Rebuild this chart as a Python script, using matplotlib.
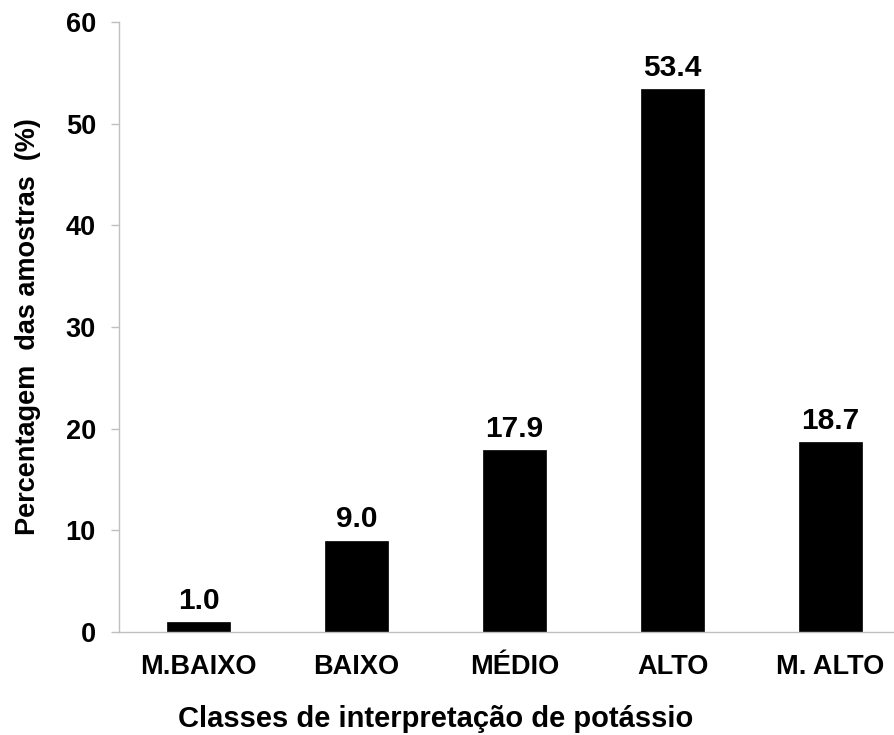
import matplotlib
matplotlib.use("Agg")
import matplotlib.pyplot as plt

categories = ["M.BAIXO", "BAIXO", "MÉDIO", "ALTO", "M. ALTO"]
values = [1.0, 9.0, 17.9, 53.4, 18.7]
yticks = [0, 10, 20, 30, 40, 50, 60]

plt.rcParams["font.family"] = ["Liberation Sans", "DejaVu Sans"]
plt.rcParams["font.weight"] = "bold"

W, H = 895, 735
fig = plt.figure(figsize=(W / 100, H / 100), dpi=100)
ax = fig.add_axes([119.5 / W, (H - 632) / H, (895 - 119.5) / W, 610 / H])

x = list(range(len(categories)))
ax.bar(x, values, width=0.4, color="black", edgecolor="black", linewidth=0.5)

for xi, v in zip(x, values):
    ax.annotate(f"{v:.1f}", (xi, v), xytext=(0, 9.5), textcoords="offset points",
                ha="center", va="baseline", fontsize=21.5, fontweight="bold")

ax.set_xlim(-0.5, 4.408)
ax.set_ylim(0, 60)
ax.set_yticks(yticks)
ax.set_xticks(x)
ax.set_xticklabels(categories, fontsize=19.5, fontweight="bold")
ax.tick_params(axis="y", labelsize=19.5, length=6, width=1, color="#BFBFBF", pad=11)
ax.tick_params(axis="x", length=0, pad=15.5)
for lbl in ax.get_yticklabels():
    lbl.set_fontweight("bold")

for side in ("top", "right"):
    ax.spines[side].set_visible(False)
for side in ("left", "bottom"):
    ax.spines[side].set_color("#BFBFBF")
    ax.spines[side].set_linewidth(1)

ax.set_xlabel("Classes de interpretação de potássio", fontsize=21, fontweight="bold", labelpad=18)
ax.xaxis.label.set_x(0.408)
ax.set_ylabel("Percentagem  das amostras  (%)", fontsize=19.5, fontweight="bold", labelpad=18)

fig.savefig("out.png", dpi=100)
